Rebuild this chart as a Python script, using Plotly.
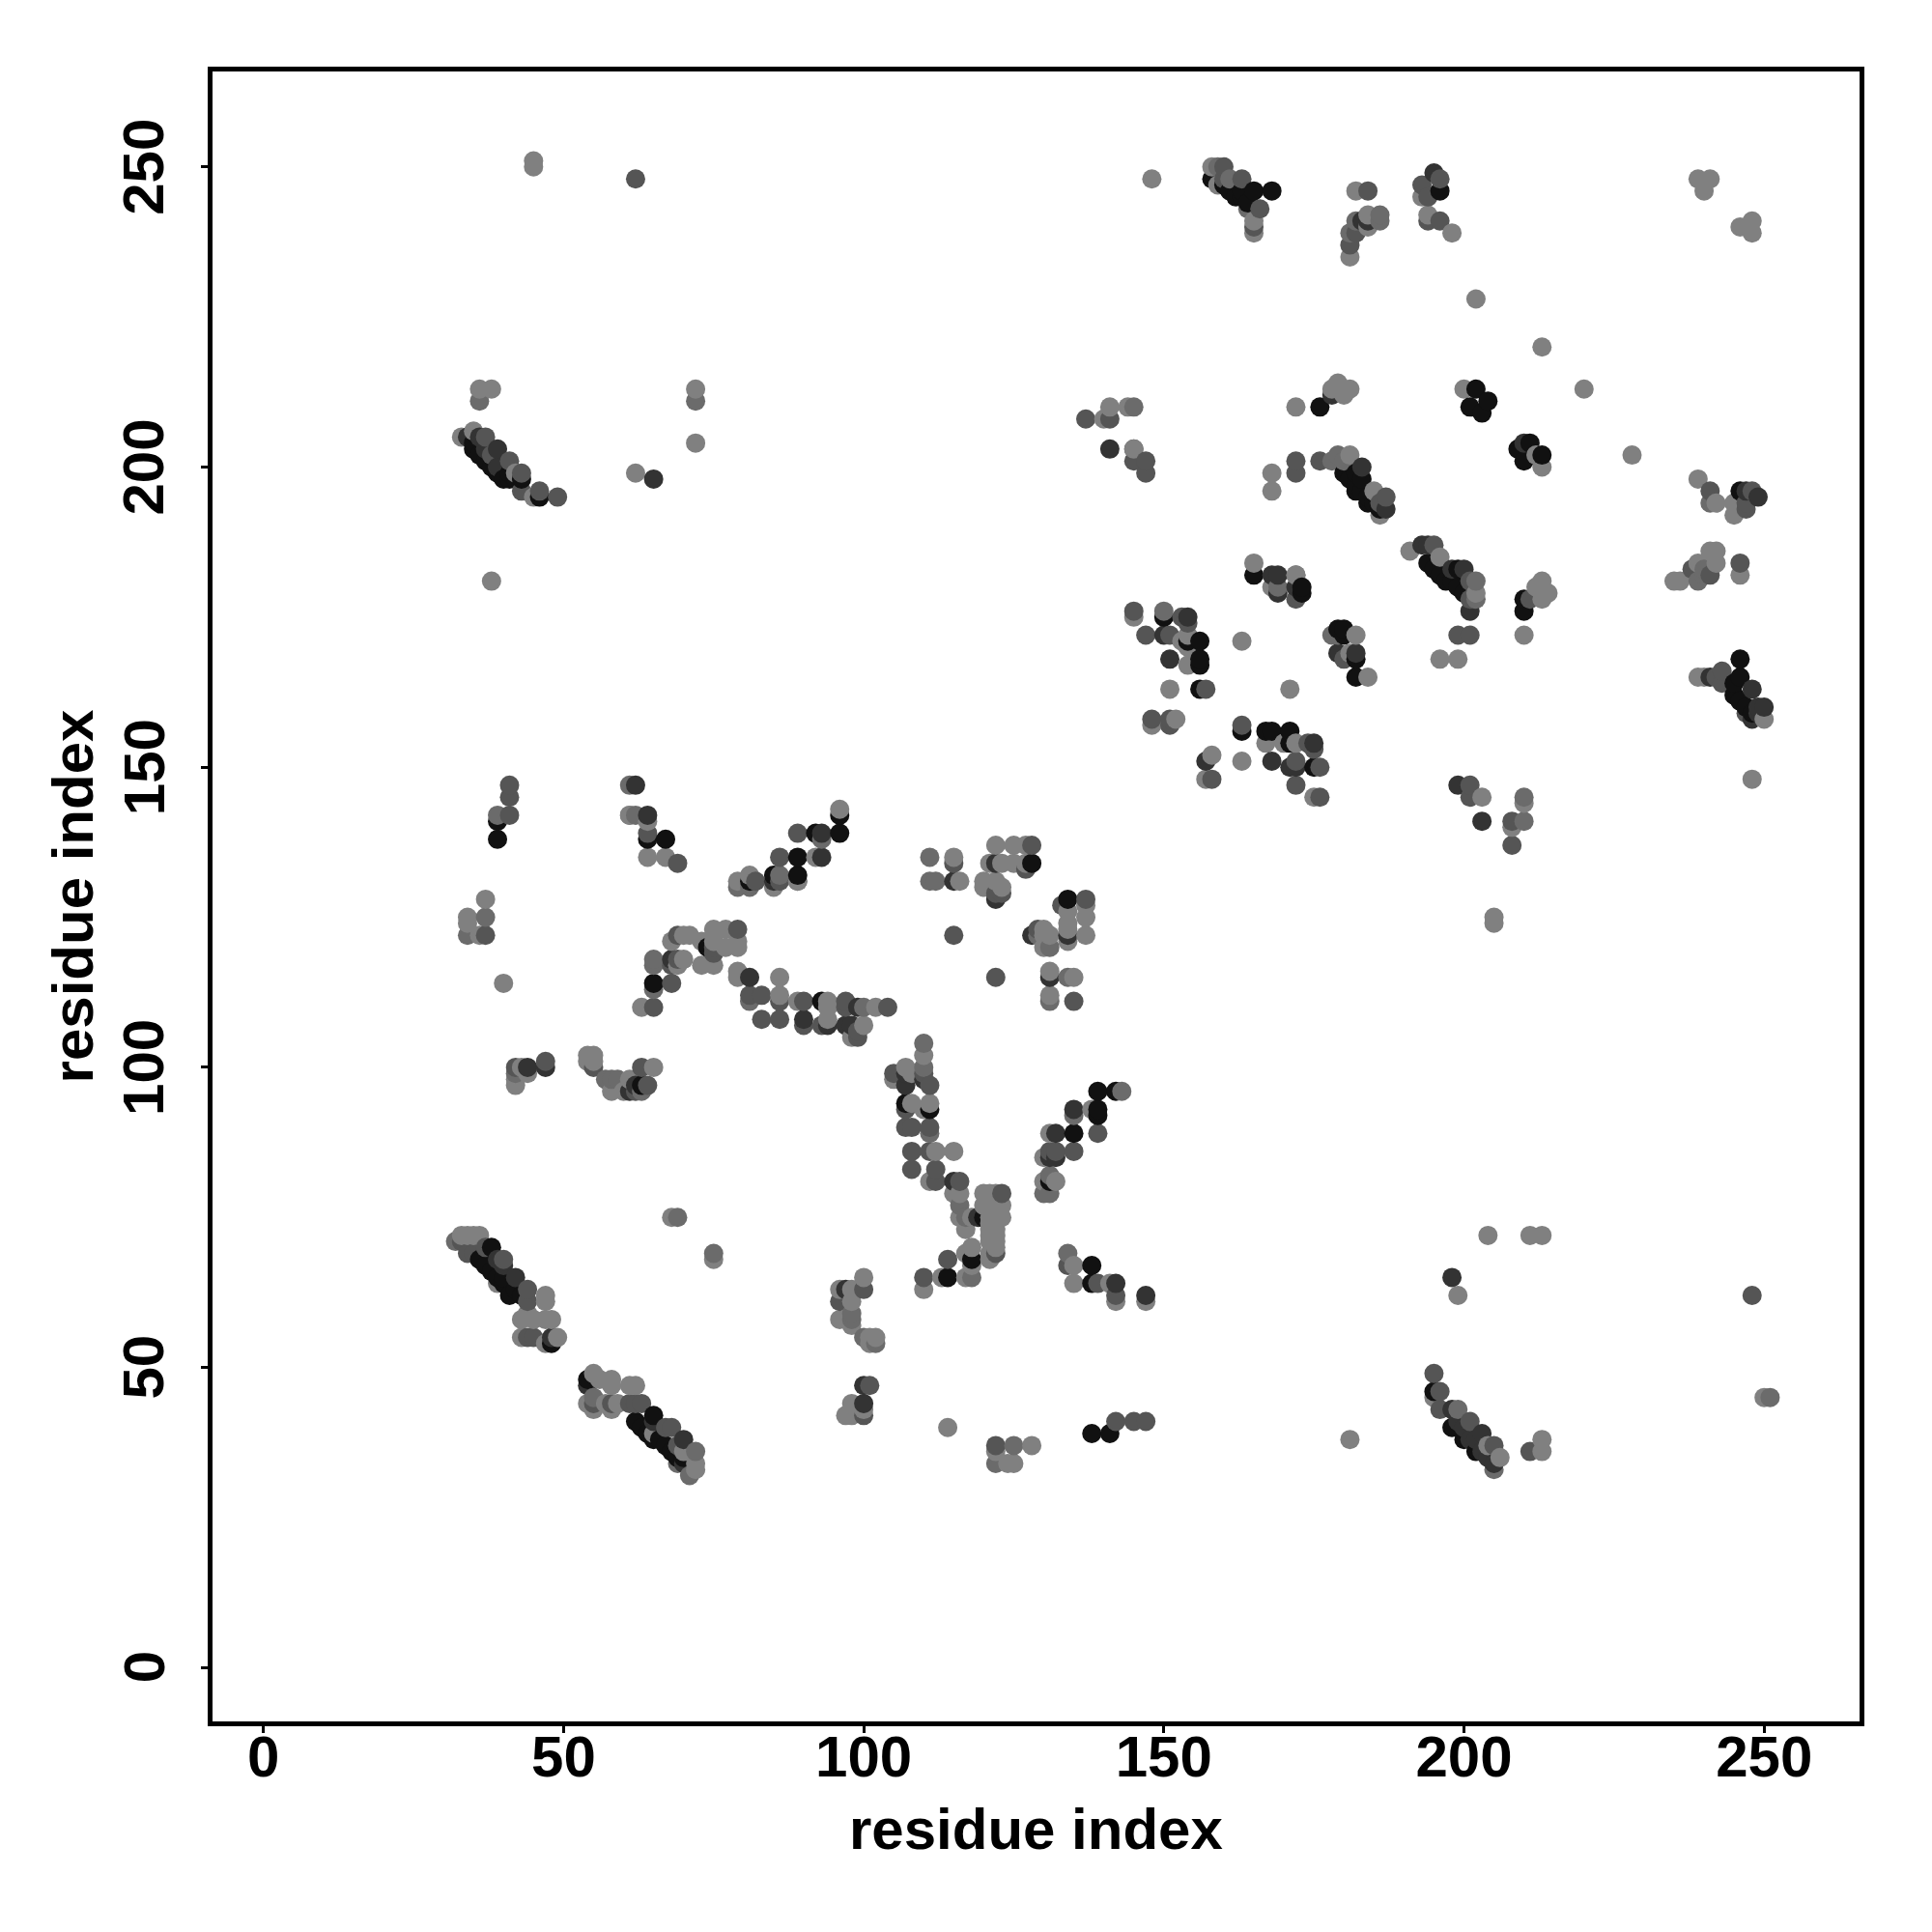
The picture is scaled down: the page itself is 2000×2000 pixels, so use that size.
import pandas as pd
import plotly.graph_objects as go

# residue contact pairs (x residue, y residue), grouped by the shade they are printed in
shade_11 = [(36,202),(38,200),(40,198),(41,199),(43,198),(46,195),(35,204),(37,201),(39,199),(35,203),(41,198),(42,198),
(158,248),(162,245),(165,246),(168,246),(163,246),(196,246),(176,210),(202,213),(204,211),(201,210),(203,209),(209,203),(211,204),(213,202),(210,201),
(180,199),(182,196),(184,194),(183,198),(182,199),(246,196),(181,198),(182,197),(183,196),(184,195),(185,194),(186,193),(160,247),(161,246),(163,245),(164,244),
(165,182),(173,180),(173,179),(150,175),(154,171),(156,171),(156,168),(156,167),(156,163),(163,156),(167,156),(168,156),(171,156),(171,154),(175,150),
(179,173),(180,173),(180,172),(182,168),(182,165),(194,184),(196,182),(199,183),(199,180),(210,178),(210,176),(246,168),(246,165),(245,164),(245,162),(195,183),(197,181),(198,181),(200,179),(246,161),(247,160),(248,159),
(39,141),(39,138),(64,138),(67,138),(96,142),(92,139),(96,139),(89,135),(81,131),(85,132),(89,132),(65,114),(74,120),(63,97),(93,111),
(128,134),(134,128),(107,94),(111,93),(139,96),(142,96),(139,93),(139,92),(135,89),(131,81),(118,68),(114,65),(120,75),(138,67),(138,64),(138,39),(141,39),
(37,67),(40,65),(41,62),(38,70),(48,54),(54,48),(62,41),(65,42),(64,39),(67,37),(195,46),(198,40),(200,38),(202,36),
(38,66),(39,65),(40,64),(36,68),(42,63),(43,62),(63,40),(65,38),(66,38),(68,36),(69,35),(70,35)]
shade_33 = [(39,203),(37,203),(36,205),(34,205),(39,200),(65,198),
(195,249),(184,241),(183,241),(178,212),(210,204),(141,203),(183,200),(187,193),(247,196),(249,195),
(168,182),(169,182),(172,180),(169,179),(154,175),(150,172),(151,168),(157,151),(168,151),(175,154),(171,150),(172,150),
(179,169),(182,169),(193,187),(194,187),(198,183),(200,183),(201,176),(241,165),(248,163),(250,160),(249,160),(248,158),(249,159),(199,147),(203,141),
(62,147),(64,142),(93,139),(93,135),(85,131),(68,118),(81,115),(90,108),(94,107),(97,107),(98,107),(99,110),(44,100),(47,100),(61,96),(62,97),
(128,122),(122,128),(122,134),(115,131),(134,122),(131,115),(107,97),(110,98),(107,99),(135,93),(132,89),(131,85),(132,85),(115,81),(119,75),(142,64),(147,62),
(39,68),(42,65),(40,67),(48,55),(54,47),(65,41),(70,38),(70,34),(100,47),(100,44),(97,63),
(198,65),(198,43),(203,39),(204,35),(205,34),(199,41),(200,40),(202,38),(201,38),(203,36)]
shade_55 = [(62,248),(37,205),(41,201),(43,199),(43,196),(46,196),(49,195),(38,202),
(160,250),(160,248),(163,248),(165,240),(166,243),(184,246),(181,237),(182,239),(196,248),(193,247),(194,245),(194,241),(196,241),
(137,208),(141,208),(145,201),(147,201),(147,199),(145,203),(172,201),(172,199),(176,201),(186,194),(187,195),(241,196),(247,193),(248,196),(247,194),
(172,178),(145,176),(153,175),(154,174),(147,172),(151,172),(157,163),(148,158),(151,158),(151,157),(163,157),(174,154),(175,153),(172,151),(176,150),(158,148),(172,147),(176,145),
(195,187),(201,181),(201,178),(199,172),(201,172),(211,178),(180,168),(241,182),(246,184),(242,165),(243,166),(243,164),(247,159),(238,183),(201,147),(201,145),(208,141),(208,137),
(41,147),(41,145),(41,142),(64,139),(69,134),(89,139),(86,135),(82,131),(86,131),(37,122),(79,123),(75,120),(75,119),(69,118),(68,117),(68,114),(65,110),(69,122),
(81,112),(83,112),(86,111),(83,108),(86,108),(90,111),(90,107),(93,107),(97,111),(97,110),(104,110),(99,105),(99,106),(42,100),(47,101),(55,100),(62,96),(63,100),(64,97),
(115,134),(127,133),(128,137),(137,128),(133,127),(122,129),(123,129),(115,122),(129,123),(122,115),(135,111),(105,99),(110,99),(111,97),(111,90),(108,90),(107,93),(107,90),(108,86),(111,86),(108,83),(112,83),(112,81),(116,81),(123,79),(114,68),(122,69),
(135,86),(139,89),(131,86),(132,86),(134,67),(139,64),(142,62),(142,41),(145,41),(147,41),(122,37),(110,65),
(34,69),(33,71),(35,69),(37,70),(40,68),(44,63),(44,61),(44,55),(45,55),(55,44),(58,44),(61,44),(62,44),(63,44),(67,40),(68,40),(69,37),(100,63),(96,61),(101,47),(100,42),
(248,62),(195,49),(196,46),(196,43),(201,41),(205,37),(211,36)]
shade_6b = [(36,211),(72,211),(159,250),(161,248),(164,243),(186,242),(182,241),(181,239),(186,241),(145,210),(178,201),(180,201),(179,202),(241,194),
(169,180),(172,182),(150,176),(179,172),(178,172),(202,181),(202,178),(240,183),(239,181),(240,182),(210,145),(210,141),
(39,142),(61,147),(62,142),(79,130),(81,130),(86,132),(89,131),(93,138),(37,125),(34,122),(65,118),(65,117),(65,113),(81,111),(100,110),(42,99),(57,98),(58,98),(59,98),(63,96),(143,96),
(111,135),(111,131),(112,131),(131,120),(129,122),(134,115),(131,111),(110,104),(110,100),(111,89),(116,77),(117,75),(135,92),(131,82),(130,79),(131,79),(118,65),(134,69),(125,37),(122,34),
(32,71),(75,69),(69,75),(55,45),(98,59),(98,58),(100,55),(102,54),(69,34),(71,32),(72,36),(199,43),(205,33),(251,45)]
shade_80 = [(45,251),(45,250),(36,213),(38,213),(72,213),(72,204),(62,199),(38,181),(33,205),(35,206),(42,199),(45,195),
(148,248),(158,250),(159,247),(165,241),(165,239),(182,246),(184,242),(184,240),(181,235),(193,245),(194,242),(198,239),(239,248),(241,248),(240,246),(248,241),(246,240),(248,239),
(202,228),(213,220),(220,213),(228,202),(172,210),(179,214),(178,213),(181,213),(180,212),(200,213),(212,202),(213,200),
(140,208),(141,210),(144,210),(145,203),(168,199),(168,196),(181,202),(185,196),(186,192),(239,198),(242,194),(245,194),(245,192),
(165,184),(168,180),(145,175),(154,172),(153,171),(154,170),(154,167),(151,163),(163,171),(171,163),(148,157),(152,158),(167,154),(170,154),(172,154),(158,152),(163,151),(157,148),(175,145),(172,182),
(182,172),(181,169),(184,165),(191,186),(196,185),(202,179),(213,181),(212,180),(214,179),(213,178),(210,172),(196,168),(199,168),
(236,181),(235,181),(239,184),(241,186),(242,186),(242,184),(246,182),(239,165),(240,165),(250,158),(248,148),(203,145),(210,144),(208,140),(205,125),(205,124),
(61,142),(64,141),(64,135),(67,135),(96,143),(79,131),(81,132),(85,130),(92,135),(89,131),(61,142),
(37,128),(34,125),(34,124),(36,122),(40,114),(68,121),(70,122),(71,122),(73,121),(75,123),(77,123),(79,121),(79,120),(77,120),(75,121),(70,118),(69,117),
(63,110),(73,117),(75,117),(79,116),(79,115),(86,115),(86,112),(89,111),(94,111),(94,110),(94,108),(102,110),(100,107),(98,105),
(43,100),(44,99),(42,97),(42,98),(54,102),(55,102),(54,101),(55,101),(61,98),(58,96),(60,96),(65,100),
(115,135),(116,131),(122,137),(125,137),(127,137),(121,134),(123,134),(125,134),(127,134),(120,131),(120,130),(122,131),(123,130),
(134,126),(137,127),(137,125),(134,124),(137,122),(134,123),(134,121),(130,123),(130,122),(131,122),(130,120),(131,116),(135,115),(131,112),
(110,102),(107,100),(105,98),(108,99),(108,94),(110,93),(111,94),(112,86),(115,86),(111,81),(115,79),(116,79),(120,79),(121,79),(122,79),(120,77),(123,77),(121,77),(123,75),(121,75),(116,75),(118,75),(117,73),
(122,78),(121,78),(122,76),(122,74),(121,74),(122,73),(121,73),(122,72),
(121,72),(121,71),(122,71),(122,70),(121,69),(121,68),(118,70),(117,69),(118,67),(113,65),(117,65),
(138,93),(131,89),(130,85),(130,81),(132,81),(135,67),(135,64),(141,64),(142,61),(147,61),(114,40),(122,36),(128,37),(124,34),(125,34),
(68,75),(75,68),(33,72),(34,72),(35,72),(36,72),(39,64),(47,62),(47,61),(43,58),(45,58),(47,58),(48,58),(44,59),(43,55),(47,54),(49,55),
(55,49),(56,48),(58,48),(58,47),(61,47),(62,47),(54,44),(55,43),(57,44),(58,43),(59,44),(65,39),(72,34),(72,33),(70,36),
(100,65),(96,63),(98,63),(98,61),(96,58),(98,57),(101,55),(102,55),(101,54),(98,44),(100,43),(97,42),(98,42),
(204,72),(211,72),(213,72),(199,62),(195,45),(204,37),(206,35),(250,45),(213,38),(213,36),(181,38),(110,63)]

tick_values = [0, 50, 100, 150, 200, 250]
tick_labels = ["0", "50", "100", "150", "200", "250"]
x_title = "residue index"
y_title = "residue index"
x_limits = [-8.48, 265.9]
y_limits = [-8.96, 265.9]

groups = {"#111111": shade_11, "#333333": shade_33, "#555555": shade_55,
          "#6b6b6b": shade_6b, "#808080": shade_80}
frames = [pd.DataFrame(pts, columns=["x", "y"]).assign(color=c) for c, pts in groups.items()]
df = pd.concat(frames).sort_values(["x", "y"], kind="stable")

fig = go.Figure(go.Scatter(
    x=df["x"], y=df["y"], mode="markers",
    marker=dict(color=df["color"], size=20, line=dict(width=0), opacity=1),
    hoverinfo="skip", showlegend=False,
))
bold = dict(family="Liberation Sans", color="black", size=60, weight="bold")
axis = dict(tickvals=tick_values, ticktext=tick_labels, showgrid=False, zeroline=False,
            showline=True, mirror=True, linecolor="black", linewidth=5,
            ticks="outside", ticklen=7, tickwidth=3, tickcolor="black",
            tickfont=bold, automargin=False)
labels = [dict(text=lab, xref="paper", yref="y", x=0, y=val, xanchor="center", yanchor="middle",
               xshift=-71, textangle=-90, showarrow=False, font=bold)
          for val, lab in zip(tick_values, tick_labels)]
labels.append(dict(text=x_title, xref="paper", yref="paper", x=0.5, y=0, xanchor="center", yanchor="middle",
                   yshift=-111, showarrow=False, font=bold))
fig.update_layout(
    width=2000, height=2000, margin=dict(l=220, r=75, t=74, b=218),
    paper_bgcolor="white", plot_bgcolor="white",
    xaxis=dict(axis, range=x_limits, ticklabelstandoff=-27),
    yaxis=dict(axis, range=y_limits, showticklabels=False,
               title=dict(text=y_title, standoff=94, font=bold)),
    annotations=labels,
)
fig.write_html("out.html", config={"displayModeBar": False},
               post_script="document.body.style.margin='0';")
